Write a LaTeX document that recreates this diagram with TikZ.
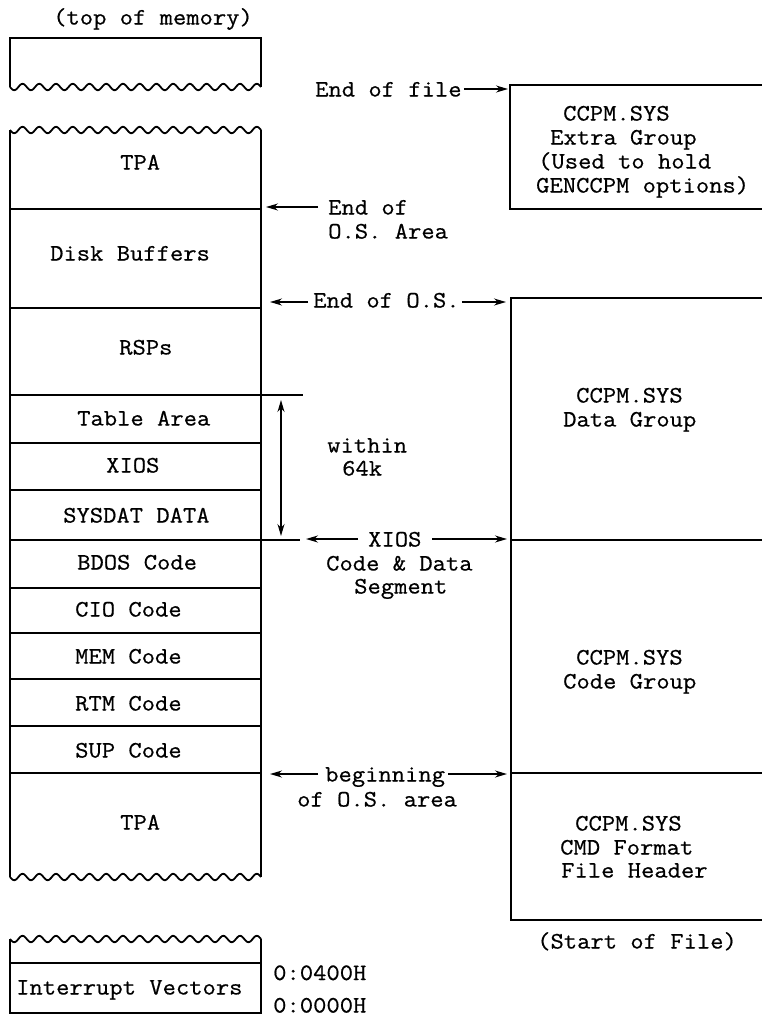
\documentclass[tikz,border=0pt]{standalone}
\usepackage{fontspec}
\newfontfamily\tw{Latin Modern Mono}[FakeBold=0.6,FakeStretch=1.1]
\usetikzlibrary{arrows.meta}
\begin{document}
\begin{tikzpicture}[x=1pt,y=-1pt,
  ln/.style={line width=1.8pt},
  txt/.style={font=\tw\fontsize{23.5}{28}\selectfont, inner sep=0pt, anchor=base west},
  arr/.style={line width=1.4pt, -{Stealth[length=12pt,width=7pt]}},
  darr/.style={line width=1.4pt, {Stealth[length=12pt,width=7pt]}-{Stealth[length=12pt,width=7pt]}}]
\useasboundingbox (0,0) rectangle (762,1018);
\newcommand\wavyline[1]{\draw[ln] plot[domain=0:251, samples=240] ({10+\x},{#1+3.2*sin(\x/16.733*360)});}

% ---- left column: top fragment
\draw[ln] (10,87) -- (10,38) -- (261,38) -- (261,87);
\wavyline{87}
% ---- main column
\wavyline{130}
\draw[ln] (10,130) -- (10,877);
\draw[ln] (261,130) -- (261,877);
\wavyline{877}
\foreach \yy/\xe in {209/261, 308/261, 395/303, 443/261, 490/261, 540/300, 588/261, 633/261, 679/261, 726/261, 773/261}
  \draw[ln] (10,\yy) -- (\xe,\yy);
% ---- bottom fragment
\wavyline{939}
\draw[ln] (10,939) -- (10,1013) -- (261,1013) -- (261,939);
\draw[ln] (10,963) -- (261,963);

% ---- right boxes
\draw[ln] (762,85) -- (510,85) -- (510,209) -- (762,209);
\draw[ln] (762,298) -- (511,298) -- (511,920) -- (762,920);
\draw[ln] (511,540) -- (762,540);
\draw[ln] (511,773) -- (762,773);

% ---- texts (left column)
\node[txt] (topmem) at (53,24.5) {(top of memory)};
\node[txt] (tpa1) at (120,169.5) {TPA};
\node[txt] (disk) at (50,260.5) {Disk Buffers};
\node[txt] (rsp) at (119,354.5) {RSPs};
\node[txt] (tab) at (77,425.5) {Table Area};
\node[txt] (xios) at (106,472.5) {XIOS};
\node[txt] (sysdat) at (63,522.5) {SYSDAT DATA};
\node[txt] (bdos) at (77,569.5) {BDOS Code};
\node[txt] (cio) at (75,616.5) {CIO Code};
\node[txt] (mem) at (75,663.5) {MEM Code};
\node[txt] (rtm) at (75,710.5) {RTM Code};
\node[txt] (sup) at (75,757.5) {SUP Code};
\node[txt] (tpa2) at (120,829.5) {TPA};
\node[txt] (intv) at (16,994.5) {Interrupt Vectors};
\node[txt] (a400) at (273,980) {0:0400H};
\node[txt] (a000) at (273,1012.5) {0:0000H};

% ---- middle labels
\node[txt] (eof) at (315,96.5) {End of file};
\node[txt] (eosa1) at (328,214.5) {End of};
\node[txt] (eosa2) at (328,238.5) {O.S. Area};
\node[txt] (eos) at (313,307.5) {End of O.S.};
\node[txt] (within) at (327,452.5) {within};
\node[txt] (k64) at (342,475.5) {64k};
\node[txt] (mxios) at (368,546.5) {XIOS};
\node[txt] (cdd) at (326,570.5) {Code \& Data};
\node[txt] (seg) at (354,593.5) {Segment};
\node[txt] (beg) at (325,781.5) {beginning};
\node[txt] (osa) at (297,806.5) {of O.S. area};

% ---- right box texts
\node[txt] (x1) at (563,120.5) {CCPM.SYS};
\node[txt] (x2) at (550,144.5) {Extra Group};
\node[txt] (x3) at (538,168.5) {(Used to hold};
\node[txt] (x4) at (536,192.5) {GENCCPM options)};
\node[txt] (d1) at (576,402.5) {CCPM.SYS};
\node[txt] (d2) at (563,426.5) {Data Group};
\node[txt] (c1) at (576,664.5) {CCPM.SYS};
\node[txt] (c2) at (563,688.5) {Code Group};
\node[txt] (h1) at (575,830.5) {CCPM.SYS};
\node[txt] (h2) at (560,854.5) {CMD Format};
\node[txt] (h3) at (561,877.5) {File Header};
\node[txt] (sof) at (537,948.5) {(Start of File)};

% ---- connector end points
\coordinate (eofT) at (508,89);
\coordinate (eosaT) at (266,207);
\coordinate (eosL) at (270,302);
\coordinate (eosR) at (506,302);
\coordinate (wTop) at (281,400);
\coordinate (wBot) at (281,536);
\coordinate (xiL) at (306,539);
\coordinate (xiR) at (507,539);
\coordinate (begL) at (270,774);
\coordinate (begR) at (507,774);

% ---- connectors
\draw[arr] (eof.east |- eofT) ++(2,0) -- (eofT);
\draw[arr] (318,207) -- (eosaT);
\draw[arr] (308,302) -- (eosL);
\draw[arr] (eos.east |- eosR) ++(2,0) -- (eosR);
\draw[darr] (wTop) -- (wBot);
\draw[arr] (358,539) -- (xiL);
\draw[arr] (432,539) -- (xiR);
\draw[arr] (318,774) -- (begL);
\draw[arr] (beg.east |- begR) ++(3,0) -- (begR);
\end{tikzpicture}
\end{document}
